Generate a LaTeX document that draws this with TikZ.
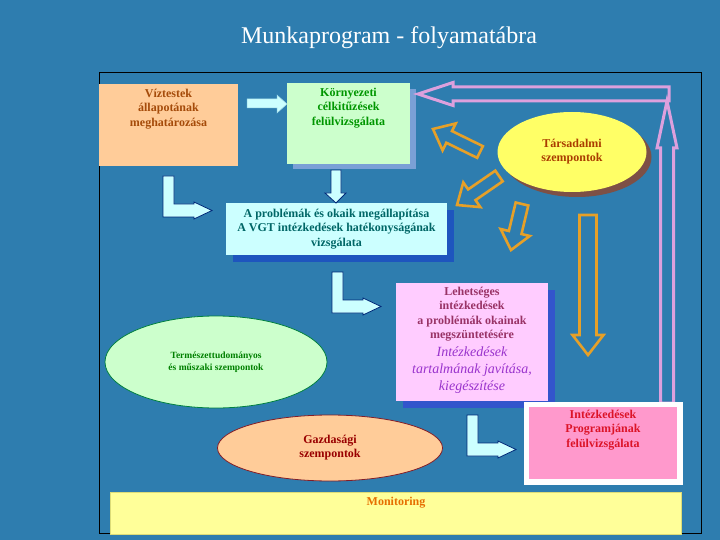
\documentclass[tikz,border=0pt]{standalone}
\usepackage{fontspec}
\setmainfont{Liberation Serif}
\usetikzlibrary{calc,shapes.geometric}

\definecolor{bgblue}{RGB}{46,125,175}
\definecolor{vizfill}{RGB}{255,204,153}
\definecolor{viztext}{RGB}{165,75,10}
\definecolor{kornfill}{RGB}{204,255,204}
\definecolor{korntext}{RGB}{0,150,0}
\definecolor{kornshadow}{RGB}{122,160,214}
\definecolor{probfill}{RGB}{204,255,255}
\definecolor{probtext}{RGB}{0,102,102}
\definecolor{probshadow}{RGB}{30,85,190}
\definecolor{lehfill}{RGB}{255,204,255}
\definecolor{lehtext}{RGB}{153,51,102}
\definecolor{lehital}{RGB}{153,51,204}
\definecolor{lehshadow}{RGB}{51,85,204}
\definecolor{tarsfill}{RGB}{255,255,102}
\definecolor{tarstext}{RGB}{170,60,0}
\definecolor{tarsshadow}{RGB}{125,80,70}
\definecolor{naturline}{RGB}{0,128,64}
\definecolor{naturtext}{RGB}{0,128,0}
\definecolor{gazdline}{RGB}{130,30,40}
\definecolor{gazdtext}{RGB}{153,0,0}
\definecolor{progfill}{RGB}{255,153,204}
\definecolor{progtext}{RGB}{220,20,40}
\definecolor{monfill}{RGB}{255,255,153}
\definecolor{monline}{RGB}{220,220,120}
\definecolor{montext}{RGB}{230,110,0}
\definecolor{orangearrow}{RGB}{230,160,40}
\definecolor{pinkarrow}{RGB}{221,160,221}
\definecolor{elbowline}{RGB}{0,40,120}

\tikzset{
  box/.style={anchor=north west, inner sep=0pt, draw=none},
  boxtext/.style={anchor=north, align=center, inner sep=0pt, font=\bfseries\fontsize{12}{14.3}\selectfont},
  elbow/.style={fill=probfill, draw=elbowline, line width=0.8pt},
  hollow/.style={draw=#1, line width=2.6pt, line join=miter}
}

% outlined block arrow: style, tail, tip, half body, half head, head length
\newcommand{\hollowarrow}[6]{%
  \coordinate (ht) at (#2);
  \coordinate (hp) at (#3);
  \coordinate (hb) at ($(hp)!#6!(ht)$);
  \draw[#1] ($(ht)!#4!90:(hp)$) -- ($(hb)!#4!90:(hp)$) -- ($(hb)!#5!90:(hp)$) -- (hp)
    -- ($(hb)!#5!-90:(hp)$) -- ($(hb)!#4!-90:(hp)$) -- ($(ht)!#4!-90:(hp)$) -- cycle;
}

\begin{document}
\begin{tikzpicture}[x=1pt, y=-1pt]
    \fill[bgblue] (0,0) rectangle (720,540);
    \useasboundingbox (0,0) rectangle (720,540);

    \node[font=\fontsize{24}{28}\selectfont, text=white] (title) at (389,38) {Munkaprogram - folyamatábra};
    \draw[black, line width=0.9pt] (99,72) rectangle (701,533);

    % boxes
    \node[box, fill=vizfill, minimum width=139pt, minimum height=82pt] (viz) at (99,84) {};
    \node[boxtext, text=viztext] (viztxt) at (168.5,89) {Víztestek\\állapotának\\meghatározása};

    \fill[kornshadow] (293,89) rectangle (416,169);
    \node[box, fill=kornfill, minimum width=123pt, minimum height=81pt] (korn) at (287,83) {};
    \node[boxtext, text=korntext] (korntxt) at (348.5,88) {Környezeti\\célkitűzések\\felülvizsgálata};

    \fill[probshadow] (233,210) rectangle (454,262);
    \node[box, fill=probfill, minimum width=221pt, minimum height=52pt] (prob) at (226,203) {};
    \node[boxtext, text=probtext] (probtxt) at (336.5,209) {A problémák és okaik megállapítása\\A VGT intézkedések hatékonyságának\\vizsgálata};

    \fill[lehshadow] (403,290) rectangle (555,408);
    \node[box, fill=lehfill, minimum width=152pt, minimum height=118pt] (leh) at (396,283) {};
    \node[boxtext, text=lehtext] (lehtxt) at (472,287) {Lehetséges\\intézkedések\\a problémák okainak\\megszüntetésére};
    \node[boxtext, text=lehital, font=\itshape\fontsize{14}{16.6}\selectfont] (lehital) at (472,347) {Intézkedések\\tartalmának javítása,\\kiegészítése};

    % pink feedback arrows
    \hollowarrow{hollow=pinkarrow, line width=3pt}{667,403}{667,101}{6.5pt}{10pt}{47pt}
    \hollowarrow{hollow=pinkarrow, line width=3pt}{669,94}{418,94}{7pt}{11.5pt}{35pt}

    \fill[white] (524,402) rectangle (683,485);
    \node[box, fill=progfill, minimum width=148pt, minimum height=72pt] (prog) at (529,407) {};
    \node[boxtext, text=progtext] (progtxt) at (603,410) {Intézkedések\\Programjának\\felülvizsgálata};

    \node[box, fill=monfill, draw=monline, line width=0.6pt, minimum width=571pt, minimum height=42pt] (mon) at (110,492) {};
    \node[font=\bfseries\fontsize{12}{14}\selectfont, text=montext, inner sep=0pt] (montxt) at (396,503) {Monitoring};

    % ellipses
    \fill[tarsshadow] (577,157) ellipse [x radius=74.5pt, y radius=40pt];
    \node[ellipse, fill=tarsfill, minimum width=149pt, minimum height=80pt, inner sep=0pt, align=center,
      text=tarstext, font=\bfseries\fontsize{12}{14}\selectfont] (tars) at (572,152) {Társadalmi\\szempontok};
    \node[ellipse, fill=kornfill, draw=naturline, line width=0.8pt, minimum width=222pt, minimum height=92pt, inner sep=0pt,
      align=center, text=naturtext, font=\bfseries\fontsize{9.5}{12.5}\selectfont] (natur) at (216,362) {Természettudományos\\és műszaki szempontok};
    \node[ellipse, fill=vizfill, draw=gazdline, line width=0.8pt, minimum width=225pt, minimum height=66pt, inner sep=0pt,
      align=center, text=gazdtext, font=\bfseries\fontsize{12}{14}\selectfont] (gazd) at (330,448) {Gazdasági\\szempontok};

    % orange arrows out of the ellipse
    \hollowarrow{hollow=orangearrow}{480,152}{433,129}{6.5pt}{15pt}{18pt}
    \hollowarrow{hollow=orangearrow}{499,176}{457,205}{6.5pt}{15pt}{18pt}
    \hollowarrow{hollow=orangearrow}{522,204}{511,250}{6.5pt}{15pt}{18pt}
    \hollowarrow{hollow=orangearrow}{588,215}{588,355}{8.5pt}{15.5pt}{20pt}

    % light arrows between the steps
    \draw[fill=probfill, draw=probfill!70!bgblue, line width=0.5pt] (247,99) -- (277,99) -- (277,95) -- (287,104)
      -- (277,113) -- (277,108) -- (247,108) -- cycle;
    \draw[elbow] (331,170) -- (341,170) -- (341,193) -- (346,193) -- (336,203) -- (325,193) -- (331,193) -- cycle;
    \foreach \ex/\ey in {163/176, 332/272, 467/415}
        \draw[elbow, shift={(\ex,\ey)}] (0,0) -- (11,0) -- (11,28) -- (31,28) -- (31,26) -- (49,34.5)
          -- (31,43) -- (31,41) -- (0,41) -- cycle;
\end{tikzpicture}
\end{document}
